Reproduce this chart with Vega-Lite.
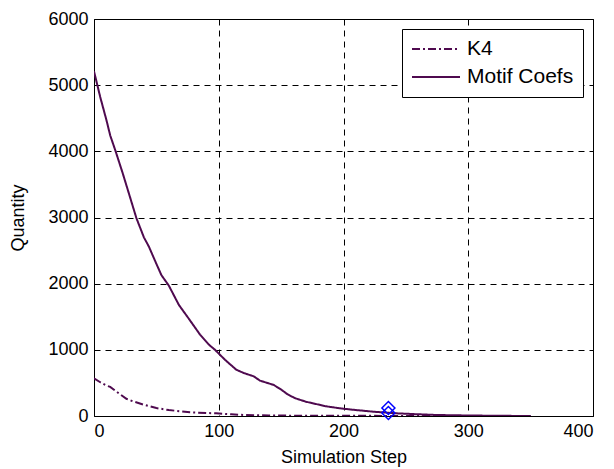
{
  "$schema": "https://vega.github.io/schema/vega-lite/v6.json",
  "width": 499,
  "height": 397,
  "autosize": {"type": "none"},
  "padding": {"left": 94, "top": 19, "right": 21, "bottom": 53},
  "background": "white",
  "config": {
    "font": "Liberation Sans",
    "view": {"stroke": "black", "strokeWidth": 1},
    "axis": {
      "domain": false,
      "ticks": false,
      "grid": true,
      "gridColor": "black",
      "gridDash": [6, 5],
      "gridOpacity": 1,
      "gridWidth": 1,
      "labelFont": "Liberation Sans",
      "labelFontSize": 18,
      "labelColor": "black",
      "titleFont": "Liberation Sans",
      "titleFontSize": 18,
      "titleFontWeight": "normal",
      "titleColor": "black"
    },
    "legend": {
      "orient": "top-right",
      "offset": 10,
      "strokeColor": "black",
      "fillColor": "white",
      "padding": 9,
      "symbolType": "stroke",
      "symbolSize": 2304,
      "symbolStrokeWidth": 2,
      "labelFont": "Liberation Sans",
      "labelFontSize": 21,
      "labelColor": "black",
      "labelOffset": 6,
      "clipHeight": 22,
      "rowPadding": 6
    }
  },
  "datasets": {
    "lines": [
      {"series": "Motif Coefs", "step": 0, "quantity": 5210},
      {"series": "Motif Coefs", "step": 5, "quantity": 4820},
      {"series": "Motif Coefs", "step": 10, "quantity": 4470},
      {"series": "Motif Coefs", "step": 13, "quantity": 4240},
      {"series": "Motif Coefs", "step": 17, "quantity": 4020},
      {"series": "Motif Coefs", "step": 23, "quantity": 3670},
      {"series": "Motif Coefs", "step": 29, "quantity": 3300},
      {"series": "Motif Coefs", "step": 34, "quantity": 2990},
      {"series": "Motif Coefs", "step": 40, "quantity": 2700},
      {"series": "Motif Coefs", "step": 44, "quantity": 2560},
      {"series": "Motif Coefs", "step": 50, "quantity": 2300},
      {"series": "Motif Coefs", "step": 54, "quantity": 2130},
      {"series": "Motif Coefs", "step": 60, "quantity": 1970},
      {"series": "Motif Coefs", "step": 68, "quantity": 1680},
      {"series": "Motif Coefs", "step": 76, "quantity": 1470},
      {"series": "Motif Coefs", "step": 85, "quantity": 1230},
      {"series": "Motif Coefs", "step": 92, "quantity": 1080},
      {"series": "Motif Coefs", "step": 97, "quantity": 1000},
      {"series": "Motif Coefs", "step": 105, "quantity": 850},
      {"series": "Motif Coefs", "step": 114, "quantity": 700},
      {"series": "Motif Coefs", "step": 120, "quantity": 650},
      {"series": "Motif Coefs", "step": 128, "quantity": 600},
      {"series": "Motif Coefs", "step": 133, "quantity": 535},
      {"series": "Motif Coefs", "step": 144, "quantity": 470},
      {"series": "Motif Coefs", "step": 150, "quantity": 400},
      {"series": "Motif Coefs", "step": 155, "quantity": 330},
      {"series": "Motif Coefs", "step": 161, "quantity": 270},
      {"series": "Motif Coefs", "step": 170, "quantity": 215},
      {"series": "Motif Coefs", "step": 176, "quantity": 190},
      {"series": "Motif Coefs", "step": 185, "quantity": 150},
      {"series": "Motif Coefs", "step": 190, "quantity": 135},
      {"series": "Motif Coefs", "step": 200, "quantity": 110},
      {"series": "Motif Coefs", "step": 210, "quantity": 90},
      {"series": "Motif Coefs", "step": 224, "quantity": 65},
      {"series": "Motif Coefs", "step": 235, "quantity": 50},
      {"series": "Motif Coefs", "step": 243, "quantity": 40},
      {"series": "Motif Coefs", "step": 255, "quantity": 30},
      {"series": "Motif Coefs", "step": 275, "quantity": 15},
      {"series": "Motif Coefs", "step": 300, "quantity": 8},
      {"series": "Motif Coefs", "step": 325, "quantity": 3},
      {"series": "Motif Coefs", "step": 350, "quantity": 0},
      {"series": "K4", "step": 0, "quantity": 570},
      {"series": "K4", "step": 5, "quantity": 510},
      {"series": "K4", "step": 10, "quantity": 460},
      {"series": "K4", "step": 13, "quantity": 440},
      {"series": "K4", "step": 20, "quantity": 340},
      {"series": "K4", "step": 26, "quantity": 260},
      {"series": "K4", "step": 30, "quantity": 230},
      {"series": "K4", "step": 40, "quantity": 170},
      {"series": "K4", "step": 50, "quantity": 120},
      {"series": "K4", "step": 60, "quantity": 90},
      {"series": "K4", "step": 70, "quantity": 70},
      {"series": "K4", "step": 77, "quantity": 55},
      {"series": "K4", "step": 90, "quantity": 45},
      {"series": "K4", "step": 98, "quantity": 40},
      {"series": "K4", "step": 110, "quantity": 25},
      {"series": "K4", "step": 120, "quantity": 15},
      {"series": "K4", "step": 140, "quantity": 8},
      {"series": "K4", "step": 160, "quantity": 5},
      {"series": "K4", "step": 200, "quantity": 3},
      {"series": "K4", "step": 250, "quantity": 1},
      {"series": "K4", "step": 300, "quantity": 0},
      {"series": "K4", "step": 350, "quantity": 0}
    ],
    "markers": [
      {"step": 236, "quantity": 121},
      {"step": 236, "quantity": 45}
    ]
  },
  "layer": [
    {
      "data": {"name": "lines"},
      "mark": {"type": "line", "strokeWidth": 2, "clip": true},
      "encoding": {
        "x": {
          "field": "step",
          "type": "quantitative",
          "scale": {"domain": [0, 400], "nice": false},
          "axis": {"title": "Simulation Step", "values": [0, 100, 200, 300, 400], "labelPadding": 6, "titlePadding": 8}
        },
        "y": {
          "field": "quantity",
          "type": "quantitative",
          "scale": {"domain": [0, 6000], "nice": false},
          "axis": {"title": "Quantity", "values": [0, 1000, 2000, 3000, 4000, 5000, 6000], "labelPadding": 6, "titlePadding": 20, "format": "d"}
        },
        "color": {
          "field": "series",
          "type": "nominal",
          "scale": {"domain": ["K4", "Motif Coefs"], "range": ["#4F0A4F", "#4F0A4F"]},
          "legend": {"title": null}
        },
        "strokeDash": {
          "field": "series",
          "type": "nominal",
          "scale": {"domain": ["K4", "Motif Coefs"], "range": [[8, 3, 2, 3], [1, 0]]},
          "legend": {"title": null}
        }
      }
    },
    {
      "data": {"name": "markers"},
      "mark": {"type": "point", "shape": "diamond", "filled": false, "color": "#0000FF", "size": 170, "strokeWidth": 1.5, "opacity": 1},
      "encoding": {
        "x": {"field": "step", "type": "quantitative"},
        "y": {"field": "quantity", "type": "quantitative"}
      }
    }
  ]
}
